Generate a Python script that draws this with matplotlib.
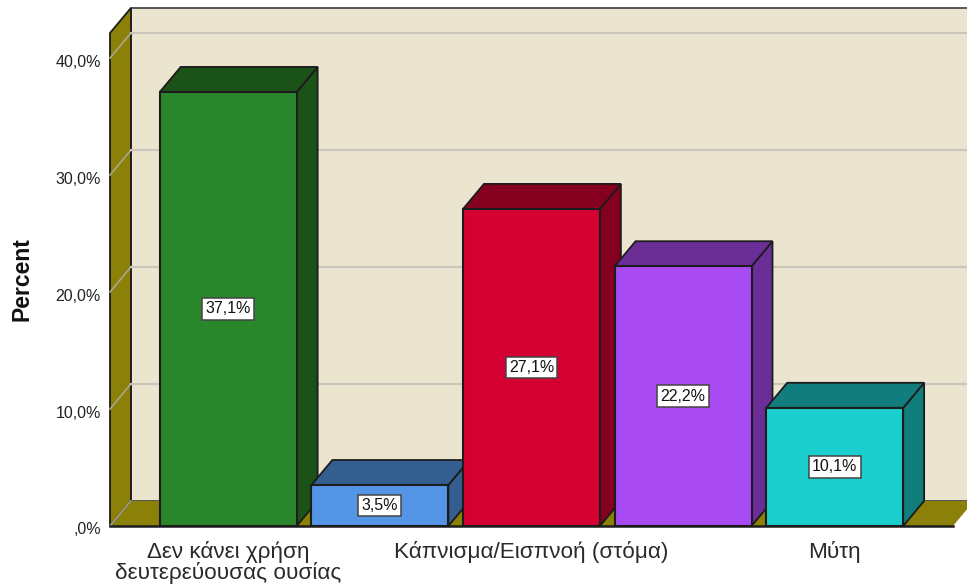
import matplotlib
matplotlib.use('Agg')
import matplotlib.pyplot as plt
from matplotlib.patches import Polygon
from matplotlib.transforms import ScaledTranslation

plt.rcParams['font.family'] = ['Liberation Sans', 'DejaVu Sans']

# values
values = [37.1, 3.5, 27.1, 22.2, 10.1]
value_labels = ['37,1%', '3,5%', '27,1%', '22,2%', '10,1%']
front_colors = ['#2a862a', '#5495e6', '#d50032', '#a84bf2', '#1bcfcf']
dark_colors = ['#1a5218', '#345e90', '#85001f', '#6b2d96', '#127d7d']
y_ticks = [0, 10, 20, 30, 40]
y_tick_labels = [',0%', '10,0%', '20,0%', '30,0%', '40,0%']
x_tick_pos = [0, 2, 4]
x_tick_labels = ['Δεν κάνει χρήση\nδευτερεύουσας ουσίας', 'Κάπνισμα/Εισπνοή (στόμα)', 'Μύτη']

W, H = 967, 587
fig = plt.figure(figsize=(W / 100, H / 100), dpi=100)
# axes box = front plane of the 3d frame, in pixels
ax = fig.add_axes([110 / W, (H - 526) / H, 843 / W, 493 / H])
ax.set_xlim(-0.78, 4.78)
ax.set_ylim(0, 42.14)
for s in ax.spines.values():
    s.set_visible(False)

# depth of the fake 3d, in data units
dx = 0.138
dy = 2.14
x0, x1 = -0.78, 4.78
y1 = 42.14
bar_w = 0.903
EDGE = '#1c1c1c'
WALL = '#ebe5d0'
SIDE = '#8b8008'


def poly(pts, fc, ec=EDGE, lw=1.3, z=1):
    ax.add_patch(Polygon(pts, closed=True, facecolor=fc, edgecolor=ec, linewidth=lw,
                         zorder=z, clip_on=False, joinstyle='miter'))


# back wall, floor, left side
poly([(x0 + dx, dy), (x1 + dx, dy), (x1 + dx, y1 + dy), (x0 + dx, y1 + dy)], WALL, ec='#4a4a4a', z=1)
poly([(x0, 0), (x1, 0), (x1 + dx, dy), (x0 + dx, dy)], SIDE, ec='none', lw=0, z=1.1)
poly([(x0, 0), (x0 + dx, dy), (x0 + dx, y1 + dy), (x0, y1)], SIDE, z=1.2)

# grid lines run across the side wall and on along the back wall
for t in y_ticks:
    ax.plot([x0, x0 + dx], [t, t + dy], color='#aaa68f', lw=1.2, zorder=1.3, clip_on=False)
    if t > 0:
        ax.plot([x0 + dx, x1 + dx], [t + dy, t + dy], color='#c9c6bb', lw=1.6, zorder=1.3, clip_on=False)

# bars, left to right so that each covers the side of the one before
for i, v in enumerate(values):
    l, r = i - bar_w / 2, i + bar_w / 2
    z = 2 + i
    poly([(r, 0), (r + dx, dy), (r + dx, v + dy), (r, v)], dark_colors[i], z=z)
    poly([(l, v), (r, v), (r + dx, v + dy), (l + dx, v + dy)], dark_colors[i], z=z)
    ax.bar(i, v, width=bar_w, color=front_colors[i], edgecolor=EDGE, linewidth=1.5, zorder=z + 0.1)
    ax.text(i, v / 2, value_labels[i], ha='center', va='center', fontsize=11.5, color='#111111', zorder=z + 0.2,
            bbox=dict(boxstyle='square,pad=0.2', facecolor='white', edgecolor='#444444', linewidth=1.1))

# base line in front
ax.plot([x0, x1], [0, 0], color='#1c1c1c', lw=1.8, zorder=10, clip_on=False)

ax.set_yticks(y_ticks)
ax.set_yticklabels(y_tick_labels, fontsize=11.5, color='#222222')
ax.tick_params(axis='y', length=0, pad=6.5)
# the tick labels sit a little under their ticks in the original
shift_down = ScaledTranslation(0, -2.5 / 100, fig.dpi_scale_trans)
for lab in ax.get_yticklabels():
    lab.set_transform(lab.get_transform() + shift_down)
ax.set_xticks(x_tick_pos)
ax.set_xticklabels(x_tick_labels, fontsize=16.2, color='#2a2a2a', linespacing=0.95)
ax.tick_params(axis='x', length=0, pad=11)
fig.text(22 / W, (H - 279) / H, 'Percent', rotation=90, ha='center', va='center',
         fontsize=16.5, fontweight='bold', color='#111111')

fig.savefig('out.png', dpi=100)
